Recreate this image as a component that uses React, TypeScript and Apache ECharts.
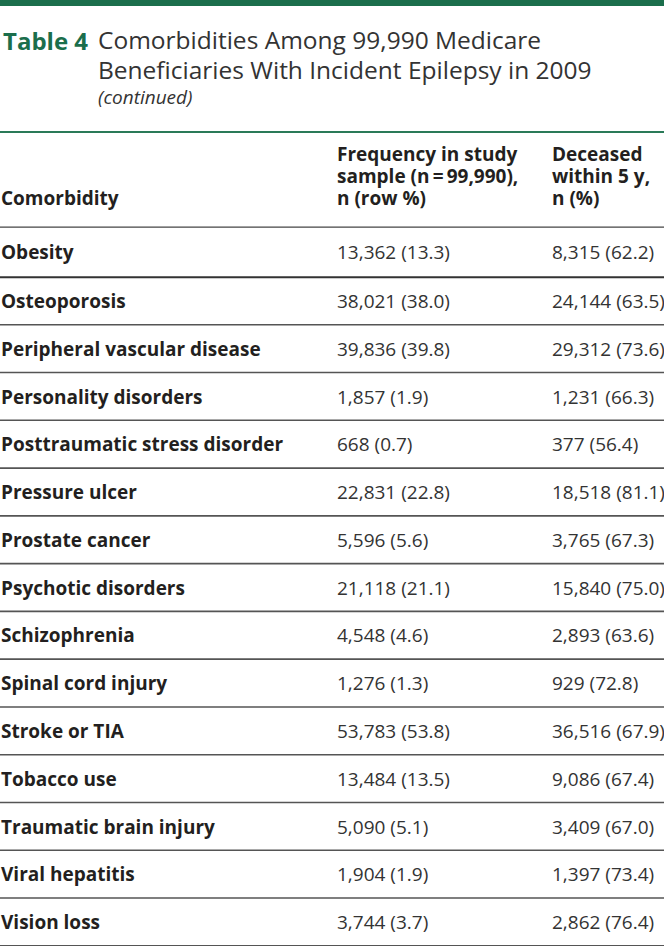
import React, { useEffect, useRef } from "react";
import * as echarts from "echarts";

const comorbidities = [
  "Obesity",
  "Osteoporosis",
  "Peripheral vascular disease",
  "Personality disorders",
  "Posttraumatic stress disorder",
  "Pressure ulcer",
  "Prostate cancer",
  "Psychotic disorders",
  "Schizophrenia",
  "Spinal cord injury",
  "Stroke or TIA",
  "Tobacco use",
  "Traumatic brain injury",
  "Viral hepatitis",
  "Vision loss",
];
const freqN = [13362, 38021, 39836, 1857, 668, 22831, 5596, 21118, 4548, 1276, 53783, 13484, 5090, 1904, 3744];
const freqPct = [13.3, 38.0, 39.8, 1.9, 0.7, 22.8, 5.6, 21.1, 4.6, 1.3, 53.8, 13.5, 5.1, 1.9, 3.7];
const deceasedN = [8315, 24144, 29312, 1231, 377, 18518, 3765, 15840, 2893, 929, 36516, 9086, 3409, 1397, 2862];
const deceasedPct = [62.2, 63.5, 73.6, 66.3, 56.4, 81.1, 67.3, 75.0, 63.6, 72.8, 67.9, 67.4, 67.0, 73.4, 76.4];

const tableLabel = "Table 4";
const titleLines = ["Comorbidities Among 99,990 Medicare", "Beneficiaries With Incident Epilepsy in 2009"];
const subtitle = "(continued)";
const headerCol1 = ["Comorbidity"];
const headerCol2 = ["Frequency in study", "sample (n\u2009=\u200999,990),", "n (row %)"];
const headerCol3 = ["Deceased", "within 5 y,", "n (%)"];

const fmtInt = (n: number) => String(n).replace(/\B(?=(\d{3})+(?!\d))/g, ",");
const fmtCell = (n: number, p: number) => `${fmtInt(n)} (${p.toFixed(1)})`;

const FONT = "'Open Sans', 'Noto Sans', sans-serif";
const GREEN = "#1b6e4c";
const TEXT = "#231f20";

export default function App() {
  const ref = useRef<HTMLDivElement>(null);
  useEffect(() => {
    if (!ref.current) return;
    const chart = echarts.init(ref.current, undefined, { renderer: "svg" });
    const W = 664;
    const col1 = 1;
    const col2 = 337;
    const col3 = 552;
    const headerBottom = 227;
    const firstLine = 277.2;
    const rowH = 47.77;

    const els: any[] = [];
    els.push({ type: "rect", shape: { x: 0, y: 0, width: W, height: 6 }, style: { fill: GREEN } });
    els.push({
      type: "text",
      style: { text: tableLabel, x: 3, y: 40, fill: GREEN, font: `bold 24px ${FONT}`, verticalAlign: "middle" },
    });
    els.push({
      type: "text",
      style: {
        text: titleLines.join("\n"),
        x: 98,
        y: 24,
        fill: "#333333",
        font: `24.5px ${FONT}`,
        lineHeight: 30,
        verticalAlign: "top",
      },
    });
    els.push({
      type: "text",
      style: { text: subtitle, x: 98, y: 97, fill: "#333333", font: `italic 19px ${FONT}`, verticalAlign: "middle" },
    });
    els.push({ type: "rect", shape: { x: 0, y: 131, width: W, height: 2 }, style: { fill: "#2a7a58" } });

    const hTop = 143;
    const hLH = 22;
    els.push({
      type: "text",
      style: { text: headerCol1.join("\n"), x: col1, y: hTop + hLH * 2, fill: TEXT, font: `bold 19px ${FONT}`, lineHeight: hLH, verticalAlign: "top" },
    });
    els.push({
      type: "text",
      style: { text: headerCol2.join("\n"), x: col2, y: hTop, fill: TEXT, font: `bold 19px ${FONT}`, lineHeight: hLH, verticalAlign: "top" },
    });
    els.push({
      type: "text",
      style: { text: headerCol3.join("\n"), x: col3, y: hTop, fill: TEXT, font: `bold 19px ${FONT}`, lineHeight: hLH, verticalAlign: "top" },
    });
    els.push({ type: "rect", shape: { x: 0, y: headerBottom - 0.5, width: W, height: 1.2 }, style: { fill: "#444444" } });

    comorbidities.forEach((name, i) => {
      const top = i === 0 ? headerBottom : firstLine + (i - 1) * rowH;
      const bottom = firstLine + i * rowH;
      const cy = (top + bottom) / 2;
      els.push({ type: "text", style: { text: name, x: col1, y: cy, fill: TEXT, font: `bold 19px ${FONT}`, verticalAlign: "middle" } });
      els.push({ type: "text", style: { text: fmtCell(freqN[i], freqPct[i]), x: col2, y: cy, fill: "#333333", font: `19px ${FONT}`, verticalAlign: "middle" } });
      els.push({ type: "text", style: { text: fmtCell(deceasedN[i], deceasedPct[i]), x: col3, y: cy, fill: "#333333", font: `19px ${FONT}`, verticalAlign: "middle" } });
      els.push({ type: "rect", shape: { x: 0, y: bottom - 1, width: W, height: i === 0 ? 2 : 1.6 }, style: { fill: i === 0 ? "#333333" : "#555555" } });
    });

    chart.setOption({ animation: false, graphic: { elements: els } });
    return () => chart.dispose();
  }, []);
  return <div ref={ref} style={{ position: "absolute", left: 0, top: 0, width: 664, height: 946, background: "#fff" }} />;
}
